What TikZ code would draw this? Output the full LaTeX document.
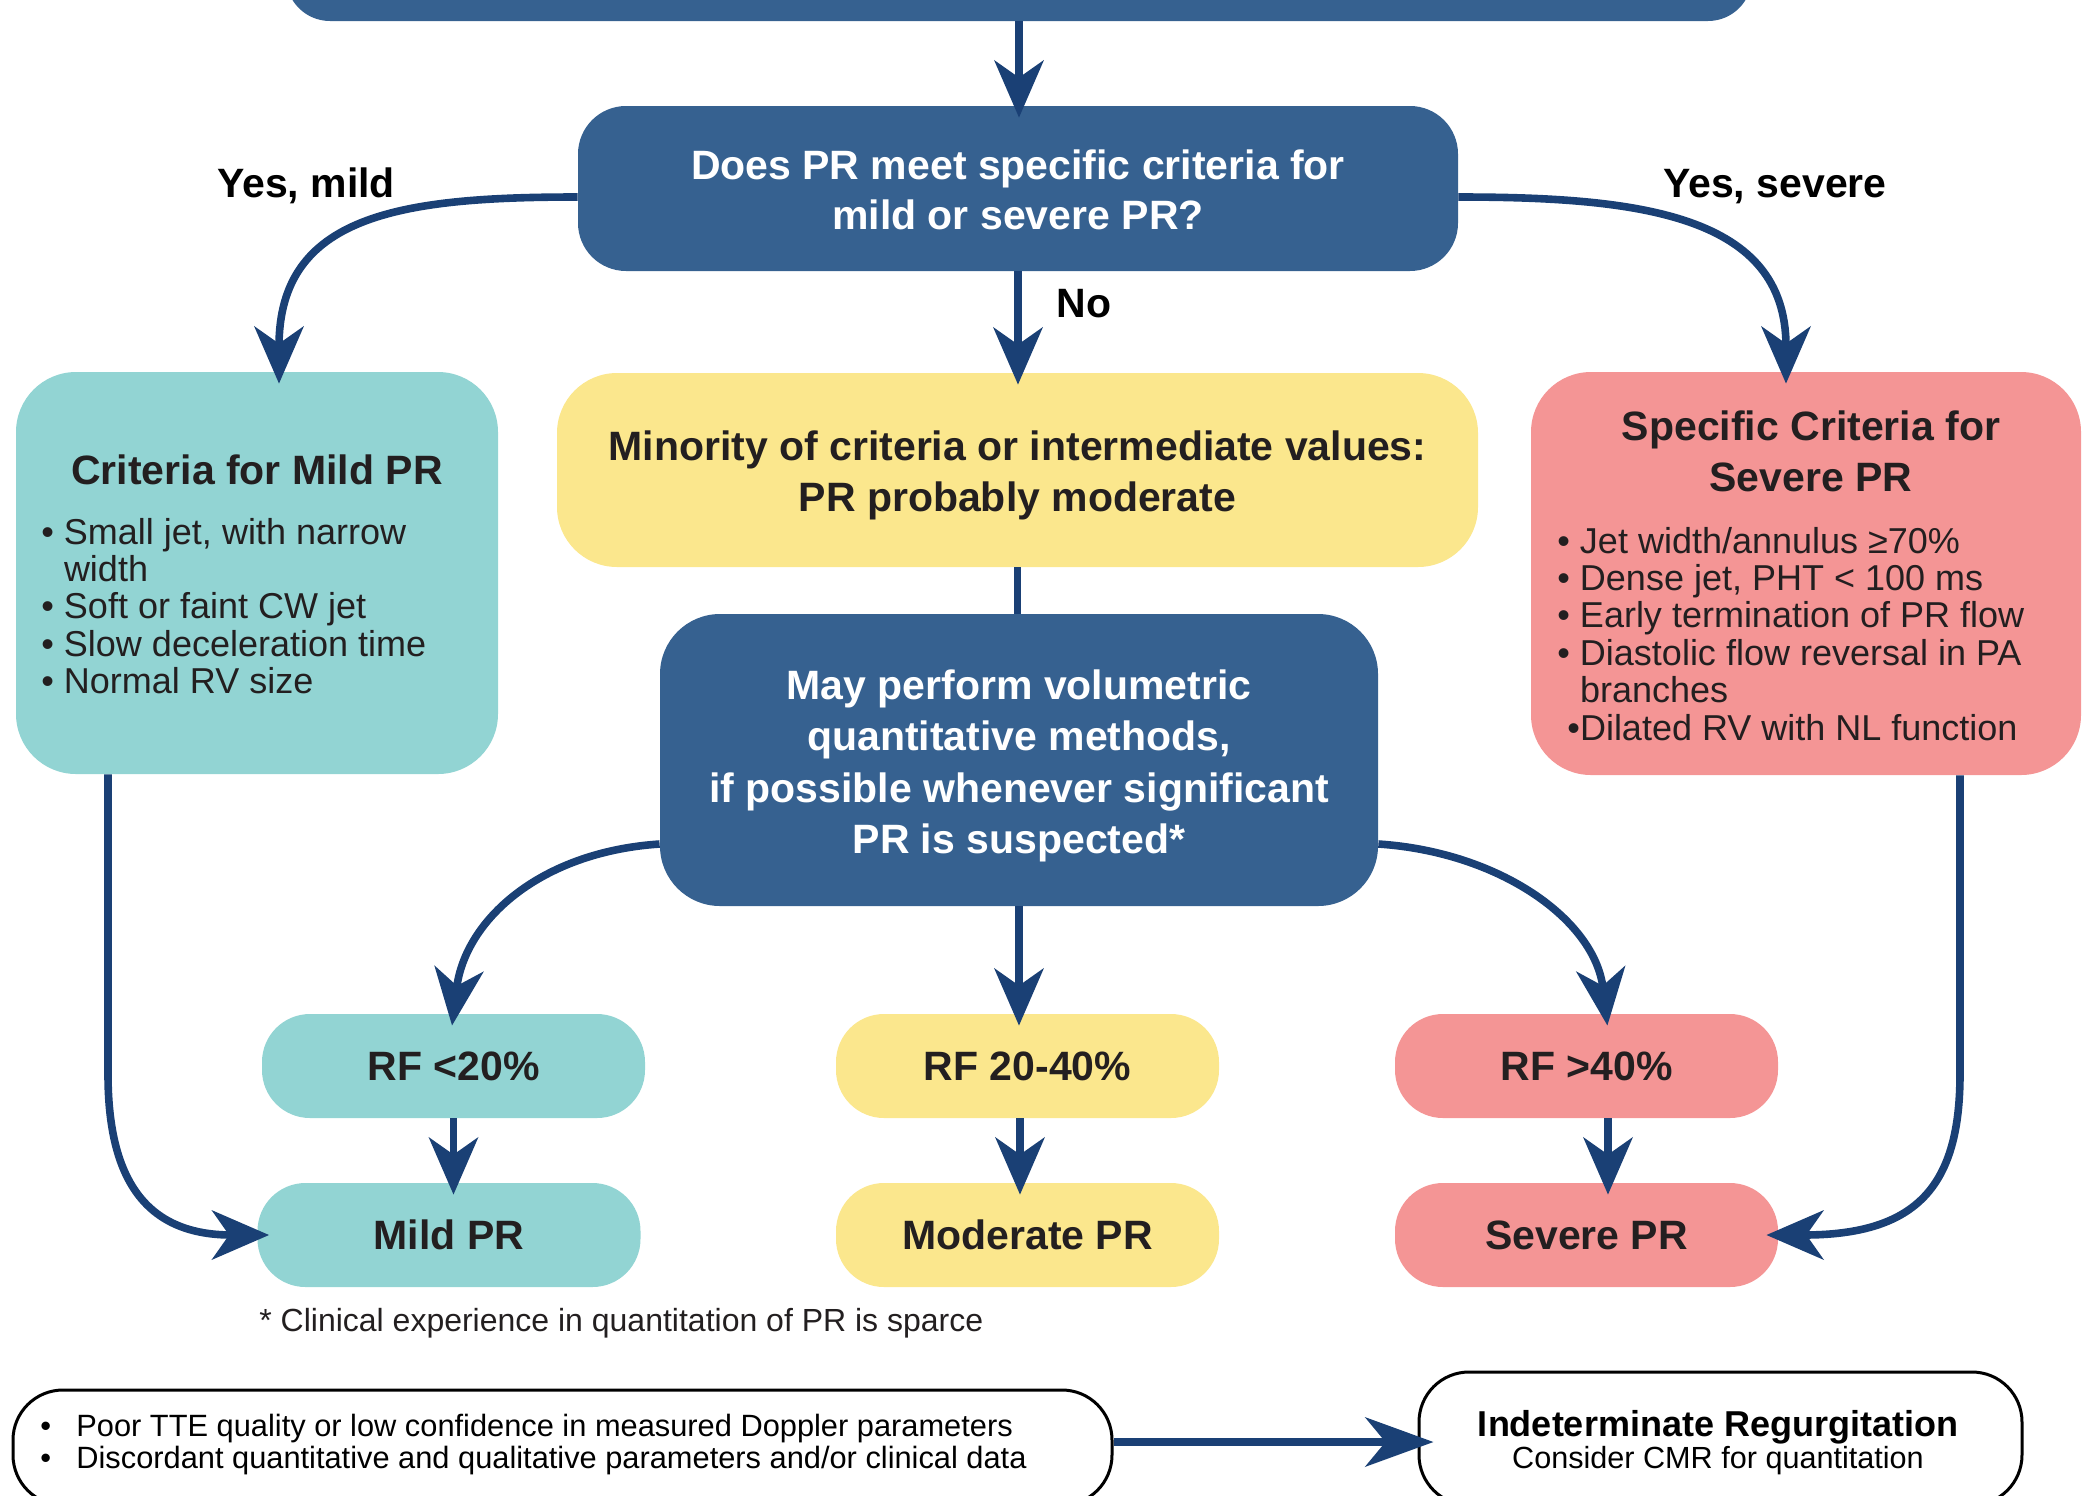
\documentclass[tikz,border=0pt]{standalone}
\usepackage{fontspec}
\setmainfont{Liberation Sans}
\usetikzlibrary{arrows.meta}
\definecolor{navybox}{RGB}{54,97,144}
\definecolor{arrowc}{RGB}{26,64,117}
\definecolor{tealc}{RGB}{146,212,211}
\definecolor{yellowc}{RGB}{251,231,141}
\definecolor{pinkc}{RGB}{244,149,149}
\definecolor{textc}{RGB}{35,31,32}
\newcommand{\blist}[1]{\begin{tabular}[t]{@{}l@{}}#1\end{tabular}}
\newcommand{\ctab}[1]{\begin{tabular}[t]{@{}c@{}}#1\end{tabular}}
\begin{document}
\begin{tikzpicture}[x=0.5pt,y=-0.5pt,
  bigbold/.style={font={\fontsize{20.5}{25.5}\selectfont\bfseries}},
  listfont/.style={font={\fontsize{18}{18.7}\selectfont}},
  box/.style={rounded corners=30pt, inner sep=0pt, draw=none, align=center},
  bluebox/.style={box, fill=navybox, text=white, bigbold},
  pill/.style={box, rounded corners=24pt, minimum width=191.5pt, minimum height=52pt, bigbold, text=textc},
  obox/.style={draw=black, line width=1.5pt, rounded corners=25pt, fill=white, inner sep=0pt},
  lab/.style={bigbold, text=black, inner sep=0pt},
  conn/.style={draw=arrowc, line width=3.8pt},
  arr/.style={conn, -{Stealth[length=28.5pt,width=24.5pt,inset=8.5pt]}, shorten >=-6pt},
  arrB/.style={draw=arrowc, line width=4.3pt, -{Stealth[length=34pt,width=24.5pt,inset=10pt]}, shorten >=-8pt}
]
\useasboundingbox (0,0) rectangle (2084,1495);
\clip (0,0) rectangle (2084,1495);

% boxes
\node[bluebox, rounded corners=22pt, minimum width=733pt, minimum height=50.5pt] (top) at (1019,-29.5) {};
\node[bluebox, rounded corners=24pt, minimum width=440pt, minimum height=82.5pt] (q) at (1018,188.5) {};
\node[anchor=base, inner sep=0pt, text=white, font={\fontsize{20.5}{25.25}\selectfont\bfseries}] (qt) at (1018,179) {\ctab{Does PR meet specific criteria for\\mild or severe PR?}};

\node[box, fill=tealc, minimum width=241pt, minimum height=201pt] (mildc) at (257,573) {};
\node[anchor=base, inner sep=0pt, bigbold, text=textc] (mildt) at (257,484) {Criteria for Mild PR};
\node[anchor=base west, inner sep=0pt, listfont, text=textc] (mildl) at (41,544) {\blist{• Small jet, with narrow\\\hphantom{• }width\\• Soft or faint CW jet\\• Slow deceleration time\\• Normal RV size}};

\node[box, fill=yellowc, minimum width=460.5pt, minimum height=97pt] (mod) at (1017.5,470) {};
\node[anchor=base, inner sep=0pt, text=textc, bigbold] (modt) at (1017.5,460) {\ctab{Minority of criteria or intermediate values:\\PR probably moderate}};

\node[box, fill=pinkc, minimum width=275pt, minimum height=201.5pt] (sevc) at (1806,573.5) {};
\node[anchor=base, inner sep=0pt, bigbold, text=textc] (sevt) at (1811,440) {\ctab{Specific Criteria for\\Severe PR}};
\node[anchor=base west, inner sep=0pt, listfont, text=textc] (sevl) at (1557,553) {\blist{• Jet width/annulus ≥70\%\\• Dense jet, PHT < 100 ms\\• Early termination of PR flow\\• Diastolic flow reversal in PA\\\hphantom{• }branches\\\ •Dilated RV with NL function}};

\node[bluebox, minimum width=359pt, minimum height=146pt] (vol) at (1019,760) {};
\node[anchor=base, inner sep=0pt, text=white, font={\fontsize{20.5}{25.75}\selectfont\bfseries}] (volt) at (1019,699) {\ctab{May perform volumetric\\quantitative methods,\\if possible whenever significant\\PR is suspected*}};

\node[pill, fill=tealc] (rf1) at (453.5,1066) {RF <20\%};
\node[pill, fill=yellowc] (rf2) at (1027.5,1066) {RF 20-40\%};
\node[pill, fill=pinkc] (rf3) at (1586.5,1066) {RF >40\%};
\node[pill, fill=tealc] (p1) at (449,1235) {Mild PR};
\node[pill, fill=yellowc] (p2) at (1027.5,1235) {Moderate PR};
\node[pill, fill=pinkc] (p3) at (1586.5,1235) {Severe PR};

% labels
\node[anchor=base, lab] (ym) at (306,197) {Yes, mild};
\node[anchor=base, lab] (ys) at (1775,197) {Yes, severe};
\node[anchor=base, lab] (no) at (1084,317) {No};

\node[anchor=base west, inner sep=0pt, font={\fontsize{16}{19}\selectfont}, text=textc] (fn) at (259,1331) {* Clinical experience in quantitation of PR is sparce};

% bottom boxes
\node[obox, minimum width=549.5pt, minimum height=57.5pt] (bl) at (562.5,1447.5) {};
\node[anchor=base west, inner sep=0pt, font={\fontsize{15.4}{16}\selectfont}, text=black] (blt) at (40,1436) {\blist{\makebox[18pt][l]{•}Poor TTE quality or low confidence in measured Doppler parameters\\\makebox[18pt][l]{•}Discordant quantitative and qualitative parameters and/or clinical data}};
\node[obox, minimum width=301.5pt, minimum height=66.5pt] (br) at (1720.5,1438.5) {};
\node[anchor=base, inner sep=0pt, font={\fontsize{18}{20}\selectfont\bfseries}, text=black] (brt) at (1718,1436) {Indeterminate Regurgitation};
\node[anchor=base, inner sep=0pt, font={\fontsize{15.3}{18}\selectfont}, text=black] (brs) at (1718,1468) {Consider CMR for quantitation};

% connectors
\draw[arr] (top.south) -- (top.south |- q.north);
\draw[arr] ([yshift=-4.25pt]q.west) .. controls (400,197) and (279,215) .. ([xshift=11pt]mildc.north);
\draw[arr] ([yshift=-4.25pt]q.east) .. controls (1640,197) and (1786,215) .. ([xshift=-10pt]sevc.north);
\draw[arr] (q.south) -- (q.south |- mod.north);
\draw[conn] (mod.south) -- (mod.south |- vol.north);
\draw[arr] ([yshift=-42pt]vol.west) .. controls (540,852) and (465,920) .. (rf1.north);
\draw[arr] ([yshift=-42pt]vol.east) .. controls (1500,852) and (1595,920) .. ([xshift=9.75pt]rf3.north);
\draw[arr] (vol.south) -- (vol.south |- rf2.north);
\draw[arr] (rf1.south) -- (rf1.south |- p1.north);
\draw[arr] ([xshift=-3.75pt]rf2.south) -- ([xshift=-3.75pt]p2.north);
\draw[arr] ([xshift=10.75pt]rf3.south) -- ([xshift=10.75pt]p3.north);
\draw[arr] ([xshift=-74.5pt]mildc.south) -- (108,1074) .. controls (108,1185) and (150,1235) .. (p1.west);
\draw[arr] ([xshift=77pt]sevc.south) -- (1960,1074) .. controls (1960,1185) and (1918,1235) .. (p3.east);
\draw[arrB] ([yshift=2.75pt]bl.east) -- ([yshift=-1.75pt]br.west);
\end{tikzpicture}
\end{document}
